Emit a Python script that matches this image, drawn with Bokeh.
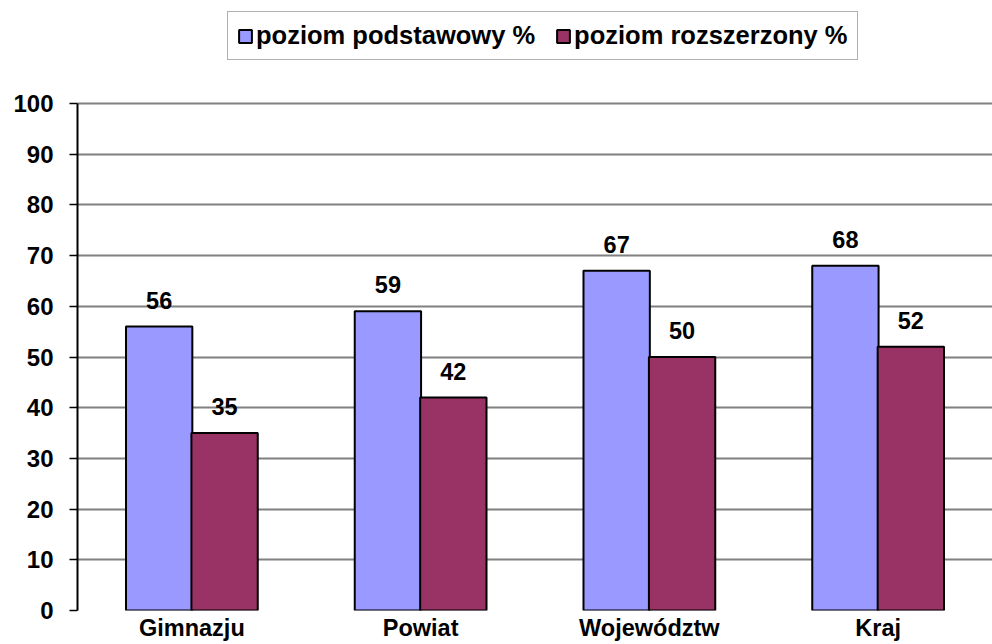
from bokeh.plotting import figure
from bokeh.models import ColumnDataSource, FactorRange, FixedTicker, LabelSet, Legend, LegendItem, Range1d
from bokeh.core.properties import value
from bokeh.transform import dodge
from bokeh.embed import file_html
from bokeh.resources import INLINE

categories = ["Gimnazju", "Powiat", "Województw", "Kraj"]
podstawowy = [56, 59, 67, 68]
rozszerzony = [35, 42, 50, 52]
y_ticks = [0, 10, 20, 30, 40, 50, 60, 70, 80, 90, 100]
series_names = ["poziom podstawowy %", "poziom rozszerzony %"]

FONT = "Liberation Sans"

# layout: the frame runs from the top of the canvas down to the zero line;
# the value axis (0-100) occupies the lower 507 px of the 610 px frame,
# leaving room above for the legend.
FRAME_H = 610
AXIS_PX = 507
y_end = 100 * FRAME_H / AXIS_PX

src = ColumnDataSource(data=dict(cat=categories, p=podstawowy, r=rozszerzony))

p = figure(x_range=FactorRange(*categories, range_padding=0), y_range=Range1d(0, y_end),
           width=992, height=644, output_backend="svg", toolbar_location=None,
           min_border_left=77, min_border_right=0, min_border_top=0, min_border_bottom=34)
p.outline_line_color = None
p.background_fill_color = "white"
p.border_fill_color = "white"

bw = 0.29
off = 0.143
r1 = p.vbar(x=dodge("cat", -off, range=p.x_range), top="p", width=bw, source=src,
            fill_color="#9999FF", line_color="black", line_width=2)
r2 = p.vbar(x=dodge("cat", off, range=p.x_range), top="r", width=bw, source=src,
            fill_color="#993366", line_color="black", line_width=2)

for col, o in (("p", -off), ("r", off)):
    lab = LabelSet(x=dodge("cat", o, range=p.x_range), y=col, text=col, source=src,
                   text_align="center", text_baseline="alphabetic", y_offset=18,
                   text_font=value(FONT), text_font_style="bold", text_font_size="23.5px",
                   text_color="black")
    p.add_layout(lab)

p.yaxis.ticker = FixedTicker(ticks=y_ticks)
p.yaxis.bounds = (0, 100)
p.yaxis.axis_line_color = "black"
p.yaxis.axis_line_width = 2
p.yaxis.major_tick_line_color = "black"
p.yaxis.major_tick_line_width = 1.5
p.yaxis.major_tick_out = 8
p.yaxis.major_tick_in = 0
p.yaxis.minor_tick_line_color = None
p.yaxis.major_label_text_font = FONT
p.yaxis.major_label_text_font_style = "bold"
p.yaxis.major_label_text_font_size = "24px"
p.yaxis.major_label_text_color = "black"
p.yaxis.major_label_standoff = 16

p.xaxis.axis_line_color = None
p.xaxis.major_tick_line_color = None
p.xaxis.minor_tick_line_color = None
p.xaxis.major_tick_out = 0
p.xaxis.major_tick_in = 0
p.xaxis.minor_tick_out = 0
p.xaxis.minor_tick_in = 0
p.xaxis.major_label_text_font = FONT
p.xaxis.major_label_text_font_style = "bold"
p.xaxis.major_label_text_font_size = "23.5px"
p.xaxis.major_label_text_color = "black"
p.xaxis.major_label_standoff = 4

p.xgrid.grid_line_color = None
p.ygrid.grid_line_color = "#808080"
p.ygrid.grid_line_width = 2
p.ygrid.ticker = FixedTicker(ticks=y_ticks)
p.ygrid.bounds = (0, 100)

legend = Legend(items=[LegendItem(label=series_names[0], renderers=[r1]),
                       LegendItem(label=series_names[1], renderers=[r2])],
                orientation="horizontal", location=(150, 550),
                label_text_font=FONT, label_text_font_style="bold",
                label_text_font_size="25.5px", label_text_color="black",
                label_height=20,
                glyph_width=16, glyph_height=16, label_standoff=3, spacing=20,
                padding=9, margin=0,
                border_line_color="#606060", border_line_width=1.5,
                background_fill_color="white", background_fill_alpha=1)
p.add_layout(legend, "center")

open("out.html", "w").write(file_html(p, INLINE))
